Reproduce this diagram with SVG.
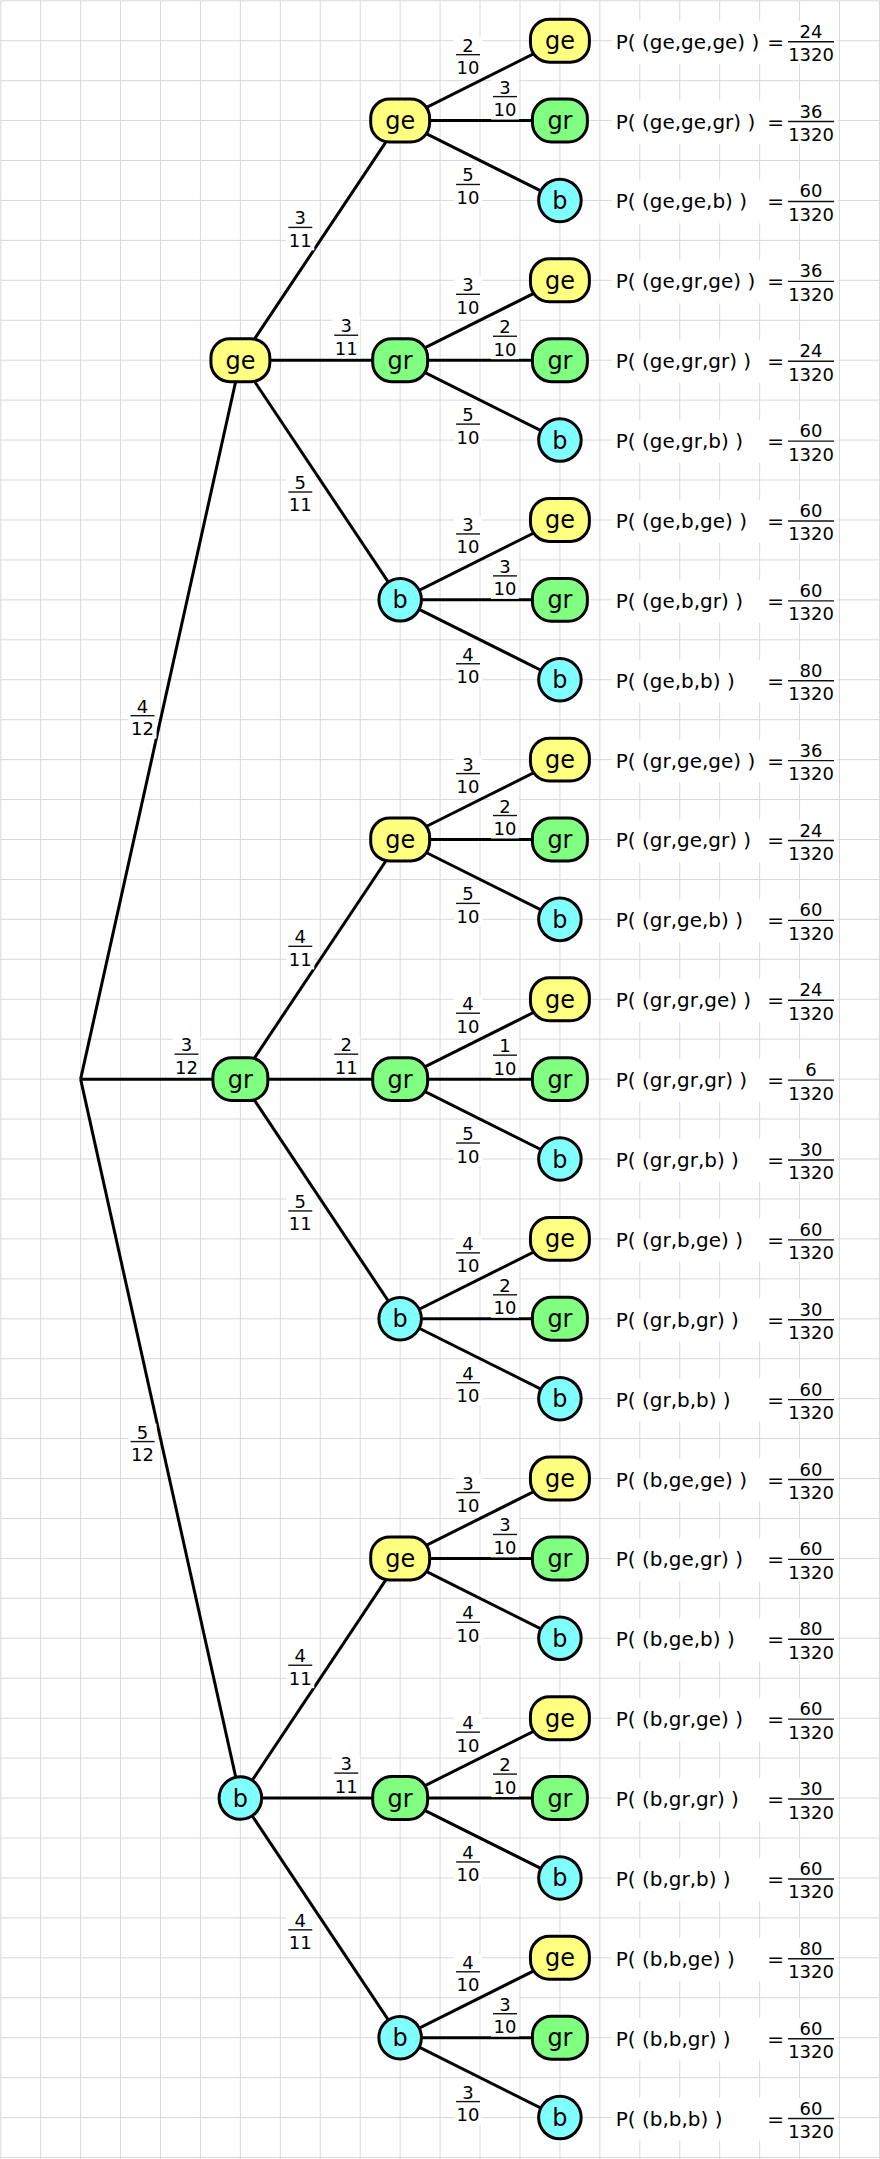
<svg xmlns="http://www.w3.org/2000/svg" xmlns:xlink="http://www.w3.org/1999/xlink" width="880" height="2159" viewBox="0 0 880 2159">
<style>
.grid{stroke:#d9d9d9;stroke-width:1;fill:none}
.edge{stroke:#000;stroke-width:3;fill:none}
.nt{font-family:'DejaVu Sans',Verdana,sans-serif;font-size:24px;text-anchor:middle;fill:#000}
.fr{font-family:'DejaVu Sans',Verdana,sans-serif;font-size:18px;text-anchor:middle;fill:#000}
.pt{font-family:'DejaVu Sans',Verdana,sans-serif;font-size:20px;fill:#000}
.eq{font-family:'DejaVu Sans',Verdana,sans-serif;font-size:20px;fill:#000;text-anchor:middle}
.bar{stroke:#111;stroke-width:1.4}
.bg{fill:#fff}
</style>
<defs>
<rect id="nGe" x="-29.5" y="-21.5" width="59" height="43" rx="19" fill="#ffff80" stroke="#000" stroke-width="3"/>
<rect id="nGr" x="-27.5" y="-21.5" width="55" height="43" rx="19" fill="#80ff80" stroke="#000" stroke-width="3"/>
<circle id="nB" r="21.3" fill="#80ffff" stroke="#000" stroke-width="3"/>
</defs>
<rect width="880" height="2159" fill="#fff"/>
<g transform="translate(0.75,0.75) scale(0.9985)">
<path class="grid" d="M0 0V2170M40 0V2170M80 0V2170M120 0V2170M160 0V2170M200 0V2170M240 0V2170M280 0V2170M320 0V2170M360 0V2170M400 0V2170M440 0V2170M480 0V2170M520 0V2170M560 0V2170M600 0V2170M640 0V2170M680 0V2170M720 0V2170M760 0V2170M800 0V2170M840 0V2170M880 0V2170M0 0H890M0 40H890M0 80H890M0 120H890M0 160H890M0 200H890M0 240H890M0 280H890M0 320H890M0 360H890M0 400H890M0 440H890M0 480H890M0 520H890M0 560H890M0 600H890M0 640H890M0 680H890M0 720H890M0 760H890M0 800H890M0 840H890M0 880H890M0 920H890M0 960H890M0 1000H890M0 1040H890M0 1080H890M0 1120H890M0 1160H890M0 1200H890M0 1240H890M0 1280H890M0 1320H890M0 1360H890M0 1400H890M0 1440H890M0 1480H890M0 1520H890M0 1560H890M0 1600H890M0 1640H890M0 1680H890M0 1720H890M0 1760H890M0 1800H890M0 1840H890M0 1880H890M0 1920H890M0 1960H890M0 2000H890M0 2040H890M0 2080H890M0 2120H890M0 2160H890"/>

<g id="connectors" class="edge">
<line x1="80" y1="1080" x2="240" y2="360"/>
<line x1="80" y1="1080" x2="240" y2="1080"/>
<line x1="80" y1="1080" x2="240" y2="1800"/>
<line x1="240" y1="360" x2="400" y2="120"/>
<line x1="240" y1="360" x2="400" y2="360"/>
<line x1="240" y1="360" x2="400" y2="600"/>
<line x1="240" y1="1080" x2="400" y2="840"/>
<line x1="240" y1="1080" x2="400" y2="1080"/>
<line x1="240" y1="1080" x2="400" y2="1320"/>
<line x1="240" y1="1800" x2="400" y2="1560"/>
<line x1="240" y1="1800" x2="400" y2="1800"/>
<line x1="240" y1="1800" x2="400" y2="2040"/>
<line x1="400" y1="120" x2="560" y2="40"/><line x1="400" y1="120" x2="560" y2="120"/><line x1="400" y1="120" x2="560" y2="200"/>
<line x1="400" y1="360" x2="560" y2="280"/><line x1="400" y1="360" x2="560" y2="360"/><line x1="400" y1="360" x2="560" y2="440"/>
<line x1="400" y1="600" x2="560" y2="520"/><line x1="400" y1="600" x2="560" y2="600"/><line x1="400" y1="600" x2="560" y2="680"/>
<line x1="400" y1="840" x2="560" y2="760"/><line x1="400" y1="840" x2="560" y2="840"/><line x1="400" y1="840" x2="560" y2="920"/>
<line x1="400" y1="1080" x2="560" y2="1000"/><line x1="400" y1="1080" x2="560" y2="1080"/><line x1="400" y1="1080" x2="560" y2="1160"/>
<line x1="400" y1="1320" x2="560" y2="1240"/><line x1="400" y1="1320" x2="560" y2="1320"/><line x1="400" y1="1320" x2="560" y2="1400"/>
<line x1="400" y1="1560" x2="560" y2="1480"/><line x1="400" y1="1560" x2="560" y2="1560"/><line x1="400" y1="1560" x2="560" y2="1640"/>
<line x1="400" y1="1800" x2="560" y2="1720"/><line x1="400" y1="1800" x2="560" y2="1800"/><line x1="400" y1="1800" x2="560" y2="1880"/>
<line x1="400" y1="2040" x2="560" y2="1960"/><line x1="400" y1="2040" x2="560" y2="2040"/><line x1="400" y1="2040" x2="560" y2="2120"/>
</g>

<g id="edge-labels">
<g transform="translate(142,716)"><rect class="bg" x="-14" y="-18" width="28" height="41"/><text class="fr" y="-3">4</text><line class="bar" x1="-12" x2="12"/><text class="fr" y="19.5">12</text></g>
<g transform="translate(186,1055)"><rect class="bg" x="-14" y="-18" width="28" height="41"/><text class="fr" y="-3">3</text><line class="bar" x1="-12" x2="12"/><text class="fr" y="19.5">12</text></g>
<g transform="translate(142,1443)"><rect class="bg" x="-14" y="-18" width="28" height="41"/><text class="fr" y="-3">5</text><line class="bar" x1="-12" x2="12"/><text class="fr" y="19.5">12</text></g>

<g transform="translate(300,227)"><rect class="bg" x="-14" y="-18" width="28" height="41"/><text class="fr" y="-3">3</text><line class="bar" x1="-12" x2="12"/><text class="fr" y="19.5">11</text></g>
<g transform="translate(346,335)"><rect class="bg" x="-14" y="-18" width="28" height="41"/><text class="fr" y="-3">3</text><line class="bar" x1="-12" x2="12"/><text class="fr" y="19.5">11</text></g>
<g transform="translate(300,492)"><rect class="bg" x="-14" y="-18" width="28" height="41"/><text class="fr" y="-3">5</text><line class="bar" x1="-12" x2="12"/><text class="fr" y="19.5">11</text></g>
<g transform="translate(300,947)"><rect class="bg" x="-14" y="-18" width="28" height="41"/><text class="fr" y="-3">4</text><line class="bar" x1="-12" x2="12"/><text class="fr" y="19.5">11</text></g>
<g transform="translate(346,1055)"><rect class="bg" x="-14" y="-18" width="28" height="41"/><text class="fr" y="-3">2</text><line class="bar" x1="-12" x2="12"/><text class="fr" y="19.5">11</text></g>
<g transform="translate(300,1212)"><rect class="bg" x="-14" y="-18" width="28" height="41"/><text class="fr" y="-3">5</text><line class="bar" x1="-12" x2="12"/><text class="fr" y="19.5">11</text></g>
<g transform="translate(300,1667)"><rect class="bg" x="-14" y="-18" width="28" height="41"/><text class="fr" y="-3">4</text><line class="bar" x1="-12" x2="12"/><text class="fr" y="19.5">11</text></g>
<g transform="translate(346,1775)"><rect class="bg" x="-14" y="-18" width="28" height="41"/><text class="fr" y="-3">3</text><line class="bar" x1="-12" x2="12"/><text class="fr" y="19.5">11</text></g>
<g transform="translate(300,1932)"><rect class="bg" x="-14" y="-18" width="28" height="41"/><text class="fr" y="-3">4</text><line class="bar" x1="-12" x2="12"/><text class="fr" y="19.5">11</text></g>

<g transform="translate(468,54)"><rect class="bg" x="-14" y="-18" width="28" height="41"/><text class="fr" y="-3">2</text><line class="bar" x1="-12" x2="12"/><text class="fr" y="19.5">10</text></g>
<g transform="translate(505,96)"><rect class="bg" x="-14" y="-18" width="28" height="41"/><text class="fr" y="-3">3</text><line class="bar" x1="-12" x2="12"/><text class="fr" y="19.5">10</text></g>
<g transform="translate(468,184)"><rect class="bg" x="-14" y="-18" width="28" height="41"/><text class="fr" y="-3">5</text><line class="bar" x1="-12" x2="12"/><text class="fr" y="19.5">10</text></g>
<g transform="translate(468,294)"><rect class="bg" x="-14" y="-18" width="28" height="41"/><text class="fr" y="-3">3</text><line class="bar" x1="-12" x2="12"/><text class="fr" y="19.5">10</text></g>
<g transform="translate(505,336)"><rect class="bg" x="-14" y="-18" width="28" height="41"/><text class="fr" y="-3">2</text><line class="bar" x1="-12" x2="12"/><text class="fr" y="19.5">10</text></g>
<g transform="translate(468,424)"><rect class="bg" x="-14" y="-18" width="28" height="41"/><text class="fr" y="-3">5</text><line class="bar" x1="-12" x2="12"/><text class="fr" y="19.5">10</text></g>
<g transform="translate(468,534)"><rect class="bg" x="-14" y="-18" width="28" height="41"/><text class="fr" y="-3">3</text><line class="bar" x1="-12" x2="12"/><text class="fr" y="19.5">10</text></g>
<g transform="translate(505,576)"><rect class="bg" x="-14" y="-18" width="28" height="41"/><text class="fr" y="-3">3</text><line class="bar" x1="-12" x2="12"/><text class="fr" y="19.5">10</text></g>
<g transform="translate(468,664)"><rect class="bg" x="-14" y="-18" width="28" height="41"/><text class="fr" y="-3">4</text><line class="bar" x1="-12" x2="12"/><text class="fr" y="19.5">10</text></g>
<g transform="translate(468,774)"><rect class="bg" x="-14" y="-18" width="28" height="41"/><text class="fr" y="-3">3</text><line class="bar" x1="-12" x2="12"/><text class="fr" y="19.5">10</text></g>
<g transform="translate(505,816)"><rect class="bg" x="-14" y="-18" width="28" height="41"/><text class="fr" y="-3">2</text><line class="bar" x1="-12" x2="12"/><text class="fr" y="19.5">10</text></g>
<g transform="translate(468,904)"><rect class="bg" x="-14" y="-18" width="28" height="41"/><text class="fr" y="-3">5</text><line class="bar" x1="-12" x2="12"/><text class="fr" y="19.5">10</text></g>
<g transform="translate(468,1014)"><rect class="bg" x="-14" y="-18" width="28" height="41"/><text class="fr" y="-3">4</text><line class="bar" x1="-12" x2="12"/><text class="fr" y="19.5">10</text></g>
<g transform="translate(505,1056)"><rect class="bg" x="-14" y="-18" width="28" height="41"/><text class="fr" y="-3">1</text><line class="bar" x1="-12" x2="12"/><text class="fr" y="19.5">10</text></g>
<g transform="translate(468,1144)"><rect class="bg" x="-14" y="-18" width="28" height="41"/><text class="fr" y="-3">5</text><line class="bar" x1="-12" x2="12"/><text class="fr" y="19.5">10</text></g>
<g transform="translate(468,1254)"><rect class="bg" x="-14" y="-18" width="28" height="41"/><text class="fr" y="-3">4</text><line class="bar" x1="-12" x2="12"/><text class="fr" y="19.5">10</text></g>
<g transform="translate(505,1296)"><rect class="bg" x="-14" y="-18" width="28" height="41"/><text class="fr" y="-3">2</text><line class="bar" x1="-12" x2="12"/><text class="fr" y="19.5">10</text></g>
<g transform="translate(468,1384)"><rect class="bg" x="-14" y="-18" width="28" height="41"/><text class="fr" y="-3">4</text><line class="bar" x1="-12" x2="12"/><text class="fr" y="19.5">10</text></g>
<g transform="translate(468,1494)"><rect class="bg" x="-14" y="-18" width="28" height="41"/><text class="fr" y="-3">3</text><line class="bar" x1="-12" x2="12"/><text class="fr" y="19.5">10</text></g>
<g transform="translate(505,1536)"><rect class="bg" x="-14" y="-18" width="28" height="41"/><text class="fr" y="-3">3</text><line class="bar" x1="-12" x2="12"/><text class="fr" y="19.5">10</text></g>
<g transform="translate(468,1624)"><rect class="bg" x="-14" y="-18" width="28" height="41"/><text class="fr" y="-3">4</text><line class="bar" x1="-12" x2="12"/><text class="fr" y="19.5">10</text></g>
<g transform="translate(468,1734)"><rect class="bg" x="-14" y="-18" width="28" height="41"/><text class="fr" y="-3">4</text><line class="bar" x1="-12" x2="12"/><text class="fr" y="19.5">10</text></g>
<g transform="translate(505,1776)"><rect class="bg" x="-14" y="-18" width="28" height="41"/><text class="fr" y="-3">2</text><line class="bar" x1="-12" x2="12"/><text class="fr" y="19.5">10</text></g>
<g transform="translate(468,1864)"><rect class="bg" x="-14" y="-18" width="28" height="41"/><text class="fr" y="-3">4</text><line class="bar" x1="-12" x2="12"/><text class="fr" y="19.5">10</text></g>
<g transform="translate(468,1974)"><rect class="bg" x="-14" y="-18" width="28" height="41"/><text class="fr" y="-3">4</text><line class="bar" x1="-12" x2="12"/><text class="fr" y="19.5">10</text></g>
<g transform="translate(505,2016)"><rect class="bg" x="-14" y="-18" width="28" height="41"/><text class="fr" y="-3">3</text><line class="bar" x1="-12" x2="12"/><text class="fr" y="19.5">10</text></g>
<g transform="translate(468,2104)"><rect class="bg" x="-14" y="-18" width="28" height="41"/><text class="fr" y="-3">3</text><line class="bar" x1="-12" x2="12"/><text class="fr" y="19.5">10</text></g>
</g>

<g id="n-ge" transform="translate(240,360)"><use xlink:href="#nGe"/><text class="nt" y="8.5">ge</text></g>
<g id="n-gr" transform="translate(240,1080)"><use xlink:href="#nGr"/><text class="nt" y="8.5">gr</text></g>
<g id="n-b" transform="translate(240,1800)"><use xlink:href="#nB"/><text class="nt" y="8.5">b</text></g>

<g id="n-ge-ge" transform="translate(400,120)"><use xlink:href="#nGe"/><text class="nt" y="8.5">ge</text></g>
<g id="n-ge-gr" transform="translate(400,360)"><use xlink:href="#nGr"/><text class="nt" y="8.5">gr</text></g>
<g id="n-ge-b" transform="translate(400,600)"><use xlink:href="#nB"/><text class="nt" y="8.5">b</text></g>
<g id="n-gr-ge" transform="translate(400,840)"><use xlink:href="#nGe"/><text class="nt" y="8.5">ge</text></g>
<g id="n-gr-gr" transform="translate(400,1080)"><use xlink:href="#nGr"/><text class="nt" y="8.5">gr</text></g>
<g id="n-gr-b" transform="translate(400,1320)"><use xlink:href="#nB"/><text class="nt" y="8.5">b</text></g>
<g id="n-b-ge" transform="translate(400,1560)"><use xlink:href="#nGe"/><text class="nt" y="8.5">ge</text></g>
<g id="n-b-gr" transform="translate(400,1800)"><use xlink:href="#nGr"/><text class="nt" y="8.5">gr</text></g>
<g id="n-b-b" transform="translate(400,2040)"><use xlink:href="#nB"/><text class="nt" y="8.5">b</text></g>

<g id="leaf-1" transform="translate(560,40)"><use xlink:href="#nGe"/><text class="nt" y="8.5">ge</text></g>
<g id="leaf-2" transform="translate(560,120)"><use xlink:href="#nGr"/><text class="nt" y="8.5">gr</text></g>
<g id="leaf-3" transform="translate(560,200)"><use xlink:href="#nB"/><text class="nt" y="8.5">b</text></g>
<g id="leaf-4" transform="translate(560,280)"><use xlink:href="#nGe"/><text class="nt" y="8.5">ge</text></g>
<g id="leaf-5" transform="translate(560,360)"><use xlink:href="#nGr"/><text class="nt" y="8.5">gr</text></g>
<g id="leaf-6" transform="translate(560,440)"><use xlink:href="#nB"/><text class="nt" y="8.5">b</text></g>
<g id="leaf-7" transform="translate(560,520)"><use xlink:href="#nGe"/><text class="nt" y="8.5">ge</text></g>
<g id="leaf-8" transform="translate(560,600)"><use xlink:href="#nGr"/><text class="nt" y="8.5">gr</text></g>
<g id="leaf-9" transform="translate(560,680)"><use xlink:href="#nB"/><text class="nt" y="8.5">b</text></g>
<g id="leaf-10" transform="translate(560,760)"><use xlink:href="#nGe"/><text class="nt" y="8.5">ge</text></g>
<g id="leaf-11" transform="translate(560,840)"><use xlink:href="#nGr"/><text class="nt" y="8.5">gr</text></g>
<g id="leaf-12" transform="translate(560,920)"><use xlink:href="#nB"/><text class="nt" y="8.5">b</text></g>
<g id="leaf-13" transform="translate(560,1000)"><use xlink:href="#nGe"/><text class="nt" y="8.5">ge</text></g>
<g id="leaf-14" transform="translate(560,1080)"><use xlink:href="#nGr"/><text class="nt" y="8.5">gr</text></g>
<g id="leaf-15" transform="translate(560,1160)"><use xlink:href="#nB"/><text class="nt" y="8.5">b</text></g>
<g id="leaf-16" transform="translate(560,1240)"><use xlink:href="#nGe"/><text class="nt" y="8.5">ge</text></g>
<g id="leaf-17" transform="translate(560,1320)"><use xlink:href="#nGr"/><text class="nt" y="8.5">gr</text></g>
<g id="leaf-18" transform="translate(560,1400)"><use xlink:href="#nB"/><text class="nt" y="8.5">b</text></g>
<g id="leaf-19" transform="translate(560,1480)"><use xlink:href="#nGe"/><text class="nt" y="8.5">ge</text></g>
<g id="leaf-20" transform="translate(560,1560)"><use xlink:href="#nGr"/><text class="nt" y="8.5">gr</text></g>
<g id="leaf-21" transform="translate(560,1640)"><use xlink:href="#nB"/><text class="nt" y="8.5">b</text></g>
<g id="leaf-22" transform="translate(560,1720)"><use xlink:href="#nGe"/><text class="nt" y="8.5">ge</text></g>
<g id="leaf-23" transform="translate(560,1800)"><use xlink:href="#nGr"/><text class="nt" y="8.5">gr</text></g>
<g id="leaf-24" transform="translate(560,1880)"><use xlink:href="#nB"/><text class="nt" y="8.5">b</text></g>
<g id="leaf-25" transform="translate(560,1960)"><use xlink:href="#nGe"/><text class="nt" y="8.5">ge</text></g>
<g id="leaf-26" transform="translate(560,2040)"><use xlink:href="#nGr"/><text class="nt" y="8.5">gr</text></g>
<g id="leaf-27" transform="translate(560,2120)"><use xlink:href="#nB"/><text class="nt" y="8.5">b</text></g>

<g id="probabilities">
<g transform="translate(0,40)"><rect class="bg" x="612" y="-20" width="226" height="43"/><text class="pt" x="616" y="8">P( (ge,ge,ge) )</text><text class="eq" x="776" y="8">=</text><text class="fr" x="811.5" y="-3">24</text><line class="bar" x1="788.5" y1="1" x2="834.5" y2="1"/><text class="fr" x="811.5" y="20.5">1320</text></g>
<g transform="translate(0,120)"><rect class="bg" x="612" y="-20" width="226" height="43"/><text class="pt" x="616" y="8">P( (ge,ge,gr) )</text><text class="eq" x="776" y="8">=</text><text class="fr" x="811.5" y="-3">36</text><line class="bar" x1="788.5" y1="1" x2="834.5" y2="1"/><text class="fr" x="811.5" y="20.5">1320</text></g>
<g transform="translate(0,200)"><rect class="bg" x="612" y="-20" width="226" height="43"/><text class="pt" x="616" y="8">P( (ge,ge,b) )</text><text class="eq" x="776" y="8">=</text><text class="fr" x="811.5" y="-3">60</text><line class="bar" x1="788.5" y1="1" x2="834.5" y2="1"/><text class="fr" x="811.5" y="20.5">1320</text></g>
<g transform="translate(0,280)"><rect class="bg" x="612" y="-20" width="226" height="43"/><text class="pt" x="616" y="8">P( (ge,gr,ge) )</text><text class="eq" x="776" y="8">=</text><text class="fr" x="811.5" y="-3">36</text><line class="bar" x1="788.5" y1="1" x2="834.5" y2="1"/><text class="fr" x="811.5" y="20.5">1320</text></g>
<g transform="translate(0,360)"><rect class="bg" x="612" y="-20" width="226" height="43"/><text class="pt" x="616" y="8">P( (ge,gr,gr) )</text><text class="eq" x="776" y="8">=</text><text class="fr" x="811.5" y="-3">24</text><line class="bar" x1="788.5" y1="1" x2="834.5" y2="1"/><text class="fr" x="811.5" y="20.5">1320</text></g>
<g transform="translate(0,440)"><rect class="bg" x="612" y="-20" width="226" height="43"/><text class="pt" x="616" y="8">P( (ge,gr,b) )</text><text class="eq" x="776" y="8">=</text><text class="fr" x="811.5" y="-3">60</text><line class="bar" x1="788.5" y1="1" x2="834.5" y2="1"/><text class="fr" x="811.5" y="20.5">1320</text></g>
<g transform="translate(0,520)"><rect class="bg" x="612" y="-20" width="226" height="43"/><text class="pt" x="616" y="8">P( (ge,b,ge) )</text><text class="eq" x="776" y="8">=</text><text class="fr" x="811.5" y="-3">60</text><line class="bar" x1="788.5" y1="1" x2="834.5" y2="1"/><text class="fr" x="811.5" y="20.5">1320</text></g>
<g transform="translate(0,600)"><rect class="bg" x="612" y="-20" width="226" height="43"/><text class="pt" x="616" y="8">P( (ge,b,gr) )</text><text class="eq" x="776" y="8">=</text><text class="fr" x="811.5" y="-3">60</text><line class="bar" x1="788.5" y1="1" x2="834.5" y2="1"/><text class="fr" x="811.5" y="20.5">1320</text></g>
<g transform="translate(0,680)"><rect class="bg" x="612" y="-20" width="226" height="43"/><text class="pt" x="616" y="8">P( (ge,b,b) )</text><text class="eq" x="776" y="8">=</text><text class="fr" x="811.5" y="-3">80</text><line class="bar" x1="788.5" y1="1" x2="834.5" y2="1"/><text class="fr" x="811.5" y="20.5">1320</text></g>
<g transform="translate(0,760)"><rect class="bg" x="612" y="-20" width="226" height="43"/><text class="pt" x="616" y="8">P( (gr,ge,ge) )</text><text class="eq" x="776" y="8">=</text><text class="fr" x="811.5" y="-3">36</text><line class="bar" x1="788.5" y1="1" x2="834.5" y2="1"/><text class="fr" x="811.5" y="20.5">1320</text></g>
<g transform="translate(0,840)"><rect class="bg" x="612" y="-20" width="226" height="43"/><text class="pt" x="616" y="8">P( (gr,ge,gr) )</text><text class="eq" x="776" y="8">=</text><text class="fr" x="811.5" y="-3">24</text><line class="bar" x1="788.5" y1="1" x2="834.5" y2="1"/><text class="fr" x="811.5" y="20.5">1320</text></g>
<g transform="translate(0,920)"><rect class="bg" x="612" y="-20" width="226" height="43"/><text class="pt" x="616" y="8">P( (gr,ge,b) )</text><text class="eq" x="776" y="8">=</text><text class="fr" x="811.5" y="-3">60</text><line class="bar" x1="788.5" y1="1" x2="834.5" y2="1"/><text class="fr" x="811.5" y="20.5">1320</text></g>
<g transform="translate(0,1000)"><rect class="bg" x="612" y="-20" width="226" height="43"/><text class="pt" x="616" y="8">P( (gr,gr,ge) )</text><text class="eq" x="776" y="8">=</text><text class="fr" x="811.5" y="-3">24</text><line class="bar" x1="788.5" y1="1" x2="834.5" y2="1"/><text class="fr" x="811.5" y="20.5">1320</text></g>
<g transform="translate(0,1080)"><rect class="bg" x="612" y="-20" width="226" height="43"/><text class="pt" x="616" y="8">P( (gr,gr,gr) )</text><text class="eq" x="776" y="8">=</text><text class="fr" x="811.5" y="-3">6</text><line class="bar" x1="788.5" y1="1" x2="834.5" y2="1"/><text class="fr" x="811.5" y="20.5">1320</text></g>
<g transform="translate(0,1160)"><rect class="bg" x="612" y="-20" width="226" height="43"/><text class="pt" x="616" y="8">P( (gr,gr,b) )</text><text class="eq" x="776" y="8">=</text><text class="fr" x="811.5" y="-3">30</text><line class="bar" x1="788.5" y1="1" x2="834.5" y2="1"/><text class="fr" x="811.5" y="20.5">1320</text></g>
<g transform="translate(0,1240)"><rect class="bg" x="612" y="-20" width="226" height="43"/><text class="pt" x="616" y="8">P( (gr,b,ge) )</text><text class="eq" x="776" y="8">=</text><text class="fr" x="811.5" y="-3">60</text><line class="bar" x1="788.5" y1="1" x2="834.5" y2="1"/><text class="fr" x="811.5" y="20.5">1320</text></g>
<g transform="translate(0,1320)"><rect class="bg" x="612" y="-20" width="226" height="43"/><text class="pt" x="616" y="8">P( (gr,b,gr) )</text><text class="eq" x="776" y="8">=</text><text class="fr" x="811.5" y="-3">30</text><line class="bar" x1="788.5" y1="1" x2="834.5" y2="1"/><text class="fr" x="811.5" y="20.5">1320</text></g>
<g transform="translate(0,1400)"><rect class="bg" x="612" y="-20" width="226" height="43"/><text class="pt" x="616" y="8">P( (gr,b,b) )</text><text class="eq" x="776" y="8">=</text><text class="fr" x="811.5" y="-3">60</text><line class="bar" x1="788.5" y1="1" x2="834.5" y2="1"/><text class="fr" x="811.5" y="20.5">1320</text></g>
<g transform="translate(0,1480)"><rect class="bg" x="612" y="-20" width="226" height="43"/><text class="pt" x="616" y="8">P( (b,ge,ge) )</text><text class="eq" x="776" y="8">=</text><text class="fr" x="811.5" y="-3">60</text><line class="bar" x1="788.5" y1="1" x2="834.5" y2="1"/><text class="fr" x="811.5" y="20.5">1320</text></g>
<g transform="translate(0,1560)"><rect class="bg" x="612" y="-20" width="226" height="43"/><text class="pt" x="616" y="8">P( (b,ge,gr) )</text><text class="eq" x="776" y="8">=</text><text class="fr" x="811.5" y="-3">60</text><line class="bar" x1="788.5" y1="1" x2="834.5" y2="1"/><text class="fr" x="811.5" y="20.5">1320</text></g>
<g transform="translate(0,1640)"><rect class="bg" x="612" y="-20" width="226" height="43"/><text class="pt" x="616" y="8">P( (b,ge,b) )</text><text class="eq" x="776" y="8">=</text><text class="fr" x="811.5" y="-3">80</text><line class="bar" x1="788.5" y1="1" x2="834.5" y2="1"/><text class="fr" x="811.5" y="20.5">1320</text></g>
<g transform="translate(0,1720)"><rect class="bg" x="612" y="-20" width="226" height="43"/><text class="pt" x="616" y="8">P( (b,gr,ge) )</text><text class="eq" x="776" y="8">=</text><text class="fr" x="811.5" y="-3">60</text><line class="bar" x1="788.5" y1="1" x2="834.5" y2="1"/><text class="fr" x="811.5" y="20.5">1320</text></g>
<g transform="translate(0,1800)"><rect class="bg" x="612" y="-20" width="226" height="43"/><text class="pt" x="616" y="8">P( (b,gr,gr) )</text><text class="eq" x="776" y="8">=</text><text class="fr" x="811.5" y="-3">30</text><line class="bar" x1="788.5" y1="1" x2="834.5" y2="1"/><text class="fr" x="811.5" y="20.5">1320</text></g>
<g transform="translate(0,1880)"><rect class="bg" x="612" y="-20" width="226" height="43"/><text class="pt" x="616" y="8">P( (b,gr,b) )</text><text class="eq" x="776" y="8">=</text><text class="fr" x="811.5" y="-3">60</text><line class="bar" x1="788.5" y1="1" x2="834.5" y2="1"/><text class="fr" x="811.5" y="20.5">1320</text></g>
<g transform="translate(0,1960)"><rect class="bg" x="612" y="-20" width="226" height="43"/><text class="pt" x="616" y="8">P( (b,b,ge) )</text><text class="eq" x="776" y="8">=</text><text class="fr" x="811.5" y="-3">80</text><line class="bar" x1="788.5" y1="1" x2="834.5" y2="1"/><text class="fr" x="811.5" y="20.5">1320</text></g>
<g transform="translate(0,2040)"><rect class="bg" x="612" y="-20" width="226" height="43"/><text class="pt" x="616" y="8">P( (b,b,gr) )</text><text class="eq" x="776" y="8">=</text><text class="fr" x="811.5" y="-3">60</text><line class="bar" x1="788.5" y1="1" x2="834.5" y2="1"/><text class="fr" x="811.5" y="20.5">1320</text></g>
<g transform="translate(0,2120)"><rect class="bg" x="612" y="-20" width="226" height="43"/><text class="pt" x="616" y="8">P( (b,b,b) )</text><text class="eq" x="776" y="8">=</text><text class="fr" x="811.5" y="-3">60</text><line class="bar" x1="788.5" y1="1" x2="834.5" y2="1"/><text class="fr" x="811.5" y="20.5">1320</text></g>
</g>
</g>
</svg>
